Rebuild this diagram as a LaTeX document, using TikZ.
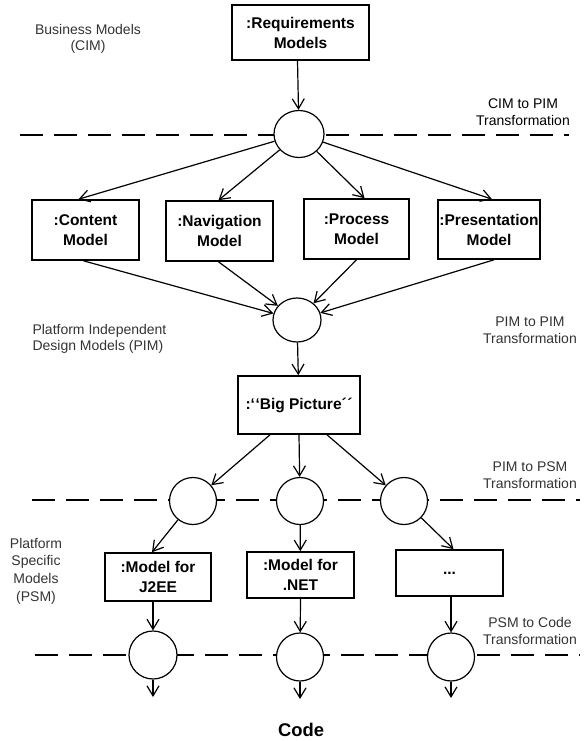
\documentclass[tikz,border=0pt]{standalone}
\usepackage{fontspec}
\setmainfont{Liberation Sans}
\usetikzlibrary{arrows.meta,shapes.geometric}
\begin{document}
\begin{tikzpicture}[x=1pt,y=-1pt,
  box/.style={draw,line width=1.6pt,inner sep=0pt,align=center,font=\bfseries\fontsize{15.5}{20}\selectfont},
  xform/.style={ellipse,draw,fill=white,line width=1.2pt,inner sep=0pt},
  conn/.style={line width=1.2pt,-{Straight Barb[length=10pt,width=12pt,line width=1.2pt]}},
  lbl/.style={align=center,text=black!80,font=\fontsize{14}{16.5}\selectfont},
  sep/.style={line width=1.8pt,dash pattern=on 23pt off 11pt}]
\useasboundingbox (0,0) rectangle (584,741);

% separator lines
\coordinate (s1a) at (20,135);  \coordinate (s1b) at (569,135);
\coordinate (s2a) at (32,500);  \coordinate (s2b) at (580,500);
\coordinate (s3a) at (35,655);  \coordinate (s3b) at (580,655);
\draw[sep] (s1a) -- (s1b);
\draw[sep] (s2a) -- (s2b);
\draw[sep] (s3a) -- (s3b);

% labels
\node[lbl] (lcim) at (88,39) {Business Models\\(CIM)};
\node[lbl,text=black] (lcimpim) at (523,112) {CIM to PIM\\Transformation};
\node[lbl,align=left,anchor=west] (lpim) at (29,339) {Platform Independent\\Design Models (PIM)};
\node[lbl] (lpimpim) at (530,330) {PIM to PIM\\Transformation};
\node[lbl] (lpimpsm) at (530,475) {PIM to PSM\\Transformation};
\node[lbl,font=\fontsize{14}{17.6}\selectfont] (lpsm) at (36,571) {Platform\\Specific\\Models\\(PSM)};
\node[lbl] (lpsmcode) at (530,631) {PSM to Code\\Transformation};
\node[font=\bfseries\fontsize{18.4}{22}\selectfont] (code) at (301,730) {Code};

% boxes
\node[box,minimum width=137pt,minimum height=55pt] (req) at (300.5,32.5) {:Requirements\\Models};
\node[box,minimum width=107pt,minimum height=60pt] (content) at (85.5,230) {:Content\\Model};
\node[box,minimum width=107pt,minimum height=60pt] (nav) at (219.5,231) {:Navigation\\Model};
\node[box,minimum width=105pt,minimum height=60pt] (proc) at (356.5,229) {:Process\\Model};
\node[box,minimum width=102pt,minimum height=59pt] (pres) at (489,229.5) {:Presentation\\Model};
\node[box,minimum width=122pt,minimum height=58pt] (big) at (299,405) {:\char96\relax\kern0.5pt\char96\relax Big Picture\char180\relax\kern0.5pt\char180\relax};
\node[box,minimum width=106pt,minimum height=48pt] (j2ee) at (158,577) {:Model for\\J2EE};
\node[box,minimum width=107pt,minimum height=46pt] (net) at (300.5,575) {:Model for\\.NET};
\node[box,minimum width=107pt,minimum height=46pt] (dots) at (449.5,573) {...};

% transformation circles
\node[xform,minimum width=50pt,minimum height=47pt] (c1) at (299,134) {};
\node[xform,minimum width=48pt,minimum height=44pt] (c2) at (297,320) {};
\node[xform,minimum width=47pt,minimum height=47pt] (c3a) at (193,501) {};
\node[xform,minimum width=47pt,minimum height=47pt] (c3b) at (300,501) {};
\node[xform,minimum width=47pt,minimum height=47pt] (c3c) at (404,501) {};
\node[xform,minimum width=48pt,minimum height=48pt] (c4a) at (153,655) {};
\node[xform,minimum width=47pt,minimum height=48pt] (c4b) at (300,657) {};
\node[xform,minimum width=47pt,minimum height=48pt] (c4c) at (451,657) {};

\coordinate (o1) at (153,697);
\coordinate (o2) at (300,699);
\coordinate (o3) at (451,698);

% connectors
\draw[conn] ([xshift=-3pt]req.south) -- (c1);
\draw[conn] (c1) -- ([xshift=-7pt]content.north);
\draw[conn] (c1) -- ([xshift=-1pt]nav.north);
\draw[conn] (c1) -- ([xshift=8pt]proc.north);
\draw[conn] (c1) -- ([xshift=3pt]pres.north);
\draw[conn] ([xshift=-2pt]content.south) -- (c2);
\draw[conn] ([xshift=-1pt]nav.south) -- (c2);
\draw[conn] (proc.south) -- (c2);
\draw[conn] ([xshift=5pt]pres.south) -- (c2);
\draw[conn] (c2) -- (big);
\draw[conn] ([xshift=-29pt]big.south) -- (c3a);
\draw[conn] (big.south) -- (c3b);
\draw[conn] ([xshift=28pt]big.south) -- (c3c);
\draw[conn] (c3a) -- ([xshift=-6pt]j2ee.north);
\draw[conn] (c3b) -- (net);
\draw[conn] (c3c) -- ([xshift=4pt]dots.north);
\draw[conn] ([xshift=-5pt]j2ee.south) -- (c4a);
\draw[conn] (net.south) -- (c4b);
\draw[conn] ([xshift=1.5pt]dots.south) -- (c4c);
\draw[conn] (c4a) -- (o1);
\draw[conn] (c4b) -- (o2);
\draw[conn] (c4c) -- (o3);
\end{tikzpicture}
\end{document}
